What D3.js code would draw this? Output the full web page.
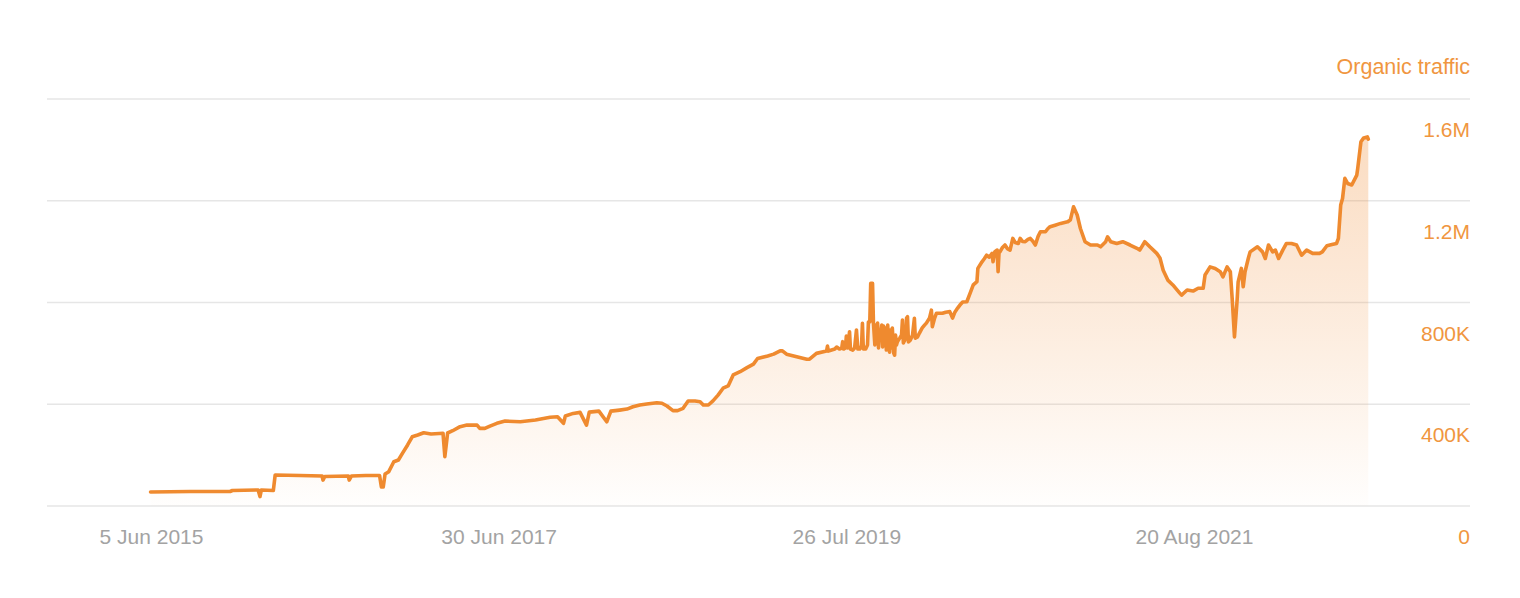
<!DOCTYPE html>
<html>
<head>
<meta charset="utf-8">
<script src="https://cdn.jsdelivr.net/npm/d3@7/dist/d3.min.js"></script>
<style>
  html, body { margin: 0; padding: 0; background: #fff; }
  svg { display: block; font-family: "Liberation Sans", Arial, Helvetica, sans-serif; }
</style>
</head>
<body>
<svg id="chart" width="1520" height="598"></svg>
<script>
// ---- data: [date, organic traffic in thousands] ----
const traffic = [
["2015-06-04",55],["2015-08-29",57],["2015-11-24",57],["2015-11-29",61],["2016-01-24",63],["2016-01-28",37],["2016-01-31",63],["2016-02-26",61],
["2016-03-01",122],["2016-04-24",120],["2016-06-11",118],["2016-06-13",102],["2016-06-17",116],["2016-08-07",118],["2016-08-09",102],["2016-08-14",118],
["2016-09-14",120],["2016-10-14",120],["2016-10-18",75],["2016-10-22",75],["2016-10-26",126],["2016-11-03",135],["2016-11-14",174],["2016-11-24",181],
["2016-12-03",208],["2016-12-14",240],["2016-12-24",272],["2017-01-05",279],["2017-01-18",288],["2017-02-03",283],["2017-03-01",286],["2017-03-05",194],
["2017-03-11",287],["2017-03-22",296],["2017-04-07",312],["2017-04-22",318],["2017-05-14",318],["2017-05-20",305],["2017-05-31",305],["2017-06-11",314],
["2017-06-26",325],["2017-07-14",334],["2017-08-16",331],["2017-09-18",338],["2017-10-20",349],["2017-11-05",351],["2017-11-18",325],["2017-11-22",354],
["2017-12-09",364],["2017-12-24",368],["2018-01-07",318],["2018-01-13",369],["2018-02-03",373],["2018-02-20",331],["2018-03-01",373],["2018-03-20",377],
["2018-04-05",381],["2018-04-18",390],["2018-05-03",397],["2018-05-18",401],["2018-06-09",406],["2018-06-20",404],["2018-07-01",393],["2018-07-14",375],
["2018-07-24",375],["2018-08-05",384],["2018-08-16",413],["2018-08-31",413],["2018-09-11",410],["2018-09-18",397],["2018-09-29",397],["2018-10-09",413],
["2018-10-20",436],["2018-10-31",463],["2018-11-11",472],["2018-11-22",515],["2018-12-07",528],["2018-12-22",544],["2019-01-05",558],["2019-01-14",580],
["2019-02-05",590],["2019-02-18",597],["2019-03-04",610],["2019-03-09",610],["2019-03-18",597],["2019-04-09",587],["2019-05-01",577],["2019-05-07",577],
["2019-05-22",600],["2019-06-13",609],["2019-06-15",629],["2019-06-17",609],["2019-06-24",613],["2019-07-01",617],["2019-07-05",625],["2019-07-11",617],
["2019-07-16",621],["2019-07-18",646],["2019-07-20",617],["2019-07-24",621],["2019-07-26",668],["2019-07-29",621],["2019-08-02",685],["2019-08-04",617],
["2019-08-09",613],["2019-08-13",621],["2019-08-17",692],["2019-08-20",617],["2019-08-24",617],["2019-08-28",629],["2019-08-30",718],["2019-09-01",617],
["2019-09-06",617],["2019-09-10",633],["2019-09-12",723],["2019-09-15",724],["2019-09-17",875],["2019-09-21",875],["2019-09-23",719],["2019-09-26",633],
["2019-09-28",711],["2019-09-30",641],["2019-10-02",719],["2019-10-04",621],["2019-10-06",692],["2019-10-08",652],["2019-10-11",711],["2019-10-13",625],
["2019-10-15",707],["2019-10-17",652],["2019-10-19",700],["2019-10-21",613],["2019-10-24",711],["2019-10-26",633],["2019-10-28",605],["2019-10-30",692],
["2019-11-01",621],["2019-11-03",700],["2019-11-06",601],["2019-11-08",593],["2019-11-10",672],["2019-11-12",633],["2019-11-14",646],["2019-11-19",660],
["2019-11-23",672],["2019-11-25",731],["2019-11-27",641],["2019-12-02",660],["2019-12-04",739],["2019-12-06",744],["2019-12-08",645],["2019-12-12",652],
["2019-12-17",672],["2019-12-21",738],["2019-12-23",660],["2019-12-28",665],["2020-01-01",680],["2020-01-07",700],["2020-01-12",711],["2020-01-16",719],
["2020-01-23",739],["2020-01-27",770],["2020-01-29",705],["2020-02-03",739],["2020-02-07",758],["2020-02-14",758],["2020-02-20",758],["2020-02-27",762],
["2020-03-07",764],["2020-03-13",739],["2020-03-18",762],["2020-03-24",778],["2020-03-29",790],["2020-04-04",802],["2020-04-13",803],["2020-04-20",836],
["2020-04-27",869],["2020-05-05",882],["2020-05-07",934],["2020-05-16",960],["2020-05-21",972],["2020-05-26",986],["2020-06-01",978],["2020-06-07",993],
["2020-06-09",960],["2020-06-13",1000],["2020-06-18",1006],["2020-06-20",921],["2020-06-22",995],["2020-06-24",999],["2020-06-29",1015],["2020-07-05",1026],
["2020-07-10",1012],["2020-07-16",1006],["2020-07-22",1052],["2020-07-27",1036],["2020-08-03",1032],["2020-08-07",1052],["2020-08-12",1040],["2020-08-18",1039],
["2020-08-24",1048],["2020-08-29",1052],["2020-09-04",1040],["2020-09-09",1026],["2020-09-15",1060],["2020-09-20",1078],["2020-10-01",1078],["2020-10-06",1090],
["2020-10-11",1098],["2020-10-22",1104],["2020-11-03",1111],["2020-11-18",1117],["2020-11-24",1124],["2020-12-01",1176],["2020-12-09",1144],["2020-12-16",1091],
["2020-12-26",1039],["2021-01-07",1026],["2021-01-22",1026],["2021-01-29",1019],["2021-02-09",1039],["2021-02-13",1058],["2021-02-20",1039],["2021-03-05",1032],
["2021-03-18",1039],["2021-04-03",1026],["2021-04-18",1013],["2021-04-24",1006],["2021-05-05",1039],["2021-05-16",1019],["2021-05-31",993],["2021-06-07",975],
["2021-06-14",927],["2021-06-24",888],["2021-07-05",869],["2021-07-20",837],["2021-07-24",829],["2021-08-05",849],["2021-08-18",845],["2021-08-29",856],
["2021-09-09",856],["2021-09-13",908],["2021-09-24",940],["2021-10-05",934],["2021-10-16",921],["2021-10-22",901],["2021-10-31",940],["2021-11-07",921],
["2021-11-11",816],["2021-11-16",665],["2021-11-22",816],["2021-11-24",881],["2021-12-01",934],["2021-12-05",862],["2021-12-09",921],["2021-12-16",973],
["2021-12-20",999],["2022-01-05",1019],["2022-01-16",999],["2022-01-22",973],["2022-01-29",1026],["2022-02-07",999],["2022-02-13",1006],["2022-02-20",973],
["2022-03-01",1006],["2022-03-09",1032],["2022-03-20",1032],["2022-03-31",1026],["2022-04-11",986],["2022-04-22",1006],["2022-05-05",993],["2022-05-20",993],
["2022-05-26",999],["2022-06-05",1023],["2022-06-16",1028],["2022-06-26",1032],["2022-06-30",1052],["2022-07-05",1183],["2022-07-09",1209],["2022-07-14",1288],
["2022-07-20",1268],["2022-07-29",1262],["2022-08-09",1301],["2022-08-11",1327],["2022-08-18",1432],["2022-08-24",1447],["2022-09-01",1451],["2022-09-03",1442]
];
const xTickDates = ["2015-06-05","2017-06-30","2019-07-26","2021-08-20"];
const yTickValues = [0, 400000, 800000, 1200000, 1600000];
const yTickLabels = ["0","400K","800K","1.2M","1.6M"];
const seriesName = "Organic traffic";

// ---- chart ----
const parse = d3.timeParse("%Y-%m-%d");
const data = traffic.map(([d, v]) => ({ date: parse(d), value: v * 1000 }));

const svg = d3.select("#chart");
const gridLeft = 47, gridRight = 1470;
const x = d3.scaleTime()
  .domain([parse(xTickDates[0]), parse(xTickDates[3])])
  .range([151, 1194]);
const y = d3.scaleLinear().domain([0, 1600000]).range([506, 99]);

const orange = "#EF8A2F";
const labelOrange = "#F0963F";

const defs = svg.append("defs");
const grad = defs.append("linearGradient")
  .attr("id", "areaGrad")
  .attr("gradientUnits", "userSpaceOnUse")
  .attr("x1", 0).attr("x2", 0)
  .attr("y1", y(1600000)).attr("y2", y(0));
grad.append("stop").attr("offset", "0%").attr("stop-color", "#F0892F").attr("stop-opacity", 0.32);
grad.append("stop").attr("offset", "55%").attr("stop-color", "#F0892F").attr("stop-opacity", 0.16);
grad.append("stop").attr("offset", "100%").attr("stop-color", "#F0892F").attr("stop-opacity", 0.01);

svg.append("g")
  .selectAll("line")
  .data(yTickValues)
  .join("line")
  .attr("x1", gridLeft).attr("x2", gridRight)
  .attr("y1", d => y(d)).attr("y2", d => y(d))
  .attr("stroke", "#e6e6e6")
  .attr("stroke-width", 1.5);

const area = d3.area()
  .x(d => x(d.date))
  .y0(y(0))
  .y1(d => y(d.value));
svg.append("path")
  .datum(data)
  .attr("d", area)
  .attr("fill", "url(#areaGrad)");

const line = d3.line()
  .x(d => x(d.date))
  .y(d => y(d.value));
svg.append("path")
  .datum(data)
  .attr("d", line)
  .attr("fill", "none")
  .attr("stroke", orange)
  .attr("stroke-width", 3.6)
  .attr("stroke-linejoin", "round")
  .attr("stroke-linecap", "round");

const yAxis = d3.axisRight(y)
  .tickValues(yTickValues)
  .tickFormat((d, i) => yTickLabels[i])
  .tickSize(0);
const yg = svg.append("g")
  .attr("transform", `translate(${gridRight},0)`)
  .call(yAxis);
yg.select(".domain").remove();
yg.selectAll("text")
  .attr("x", 0)
  .attr("dy", 0)
  .attr("y", 37.5)
  .attr("text-anchor", "end")
  .attr("fill", labelOrange)
  .style("font-size", "21px")
  .style("font-family", '"Liberation Sans", Arial, sans-serif');

const fmt = d3.timeFormat("%-d %b %Y");
const xAxis = d3.axisBottom(x)
  .tickValues(xTickDates.map(parse))
  .tickFormat(fmt)
  .tickSize(0);
const xg = svg.append("g")
  .attr("transform", `translate(0,${y(0)})`)
  .call(xAxis);
xg.select(".domain").remove();
xg.selectAll("text")
  .attr("y", 37.5)
  .attr("dy", 0)
  .attr("fill", "#a3a3a3")
  .style("font-size", "21px")
  .style("font-family", '"Liberation Sans", Arial, sans-serif');

svg.append("text")
  .attr("x", gridRight)
  .attr("y", 74)
  .attr("text-anchor", "end")
  .attr("fill", labelOrange)
  .style("font-size", "21.5px")
  .text(seriesName);
</script>
</body>
</html>
